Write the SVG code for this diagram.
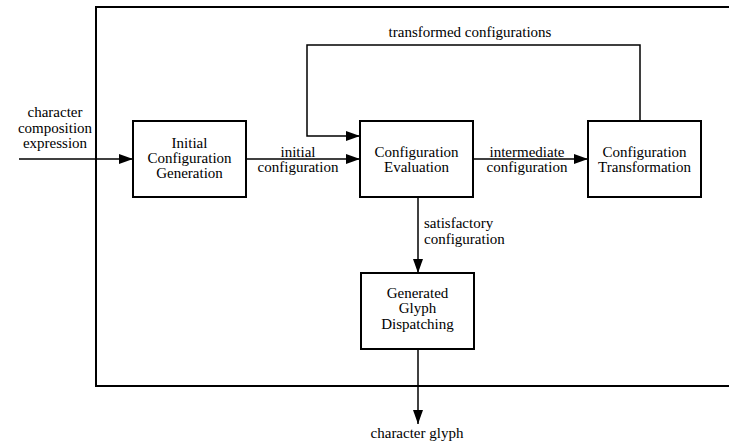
<svg xmlns="http://www.w3.org/2000/svg" width="729" height="445" viewBox="0 0 729 445">
<defs>
<marker id="ah" markerWidth="14" markerHeight="10" refX="14" refY="5" orient="auto" markerUnits="userSpaceOnUse">
<path d="M0,0 L14,5 L0,10 Z" fill="#000"/>
</marker>
<style>
.m{text-anchor:middle}
.box{fill:#fff;stroke:#000;stroke-width:2}
.ln{fill:none;stroke:#000;stroke-width:1.5}
.fr{fill:none;stroke:#000;stroke-width:2}
</style>
</defs>
<rect width="729" height="445" fill="#fff"/>
<path class="fr" d="M730,7 H96 V386 H730"/>
<g font-family="'Liberation Serif', 'Times New Roman', 'DejaVu Serif', serif" font-size="15" fill="#000">
<g id="connectors">
<line class="ln" x1="19" y1="159" x2="133" y2="159" marker-end="url(#ah)"/>
<line class="ln" x1="246" y1="159" x2="360" y2="159" marker-end="url(#ah)"/>
<line class="ln" x1="473" y1="159" x2="588" y2="159" marker-end="url(#ah)"/>
<path class="ln" d="M640,121 V45 H307 V136 H360" marker-end="url(#ah)"/>
<line class="ln" x1="418" y1="197" x2="418" y2="273" marker-end="url(#ah)"/>
<line class="ln" x1="418" y1="349" x2="418" y2="424" marker-end="url(#ah)"/>
<text class="m" x="55" y="117">character</text>
<text class="m" x="55" y="133">composition</text>
<text class="m" x="55" y="148">expression</text>
<text class="m" x="298" y="157">initial</text>
<text class="m" x="298" y="172">configuration</text>
<text class="m" x="527" y="157">intermediate</text>
<text class="m" x="527" y="172">configuration</text>
<text class="m" x="470" y="37">transformed configurations</text>
<text x="424" y="228">satisfactory</text>
<text x="424" y="244">configuration</text>
<text class="m" x="417" y="438">character glyph</text>
</g>
<g id="initial-generation">
<rect class="box" x="133" y="121" width="113" height="76"/>
<text class="m" x="189.5" y="148">Initial</text>
<text class="m" x="189.5" y="163">Configuration</text>
<text class="m" x="189.5" y="178">Generation</text>
</g>
<g id="evaluation">
<rect class="box" x="360" y="121" width="113" height="76"/>
<text class="m" x="416.5" y="157">Configuration</text>
<text class="m" x="416.5" y="172">Evaluation</text>
</g>
<g id="transformation">
<rect class="box" x="588" y="121" width="113" height="76"/>
<text class="m" x="644.5" y="157">Configuration</text>
<text class="m" x="644.5" y="172">Transformation</text>
</g>
<g id="dispatching">
<rect class="box" x="361" y="273" width="113" height="76"/>
<text class="m" x="417.5" y="298">Generated</text>
<text class="m" x="417.5" y="313">Glyph</text>
<text class="m" x="417.5" y="329">Dispatching</text>
</g>
</g>
</svg>
